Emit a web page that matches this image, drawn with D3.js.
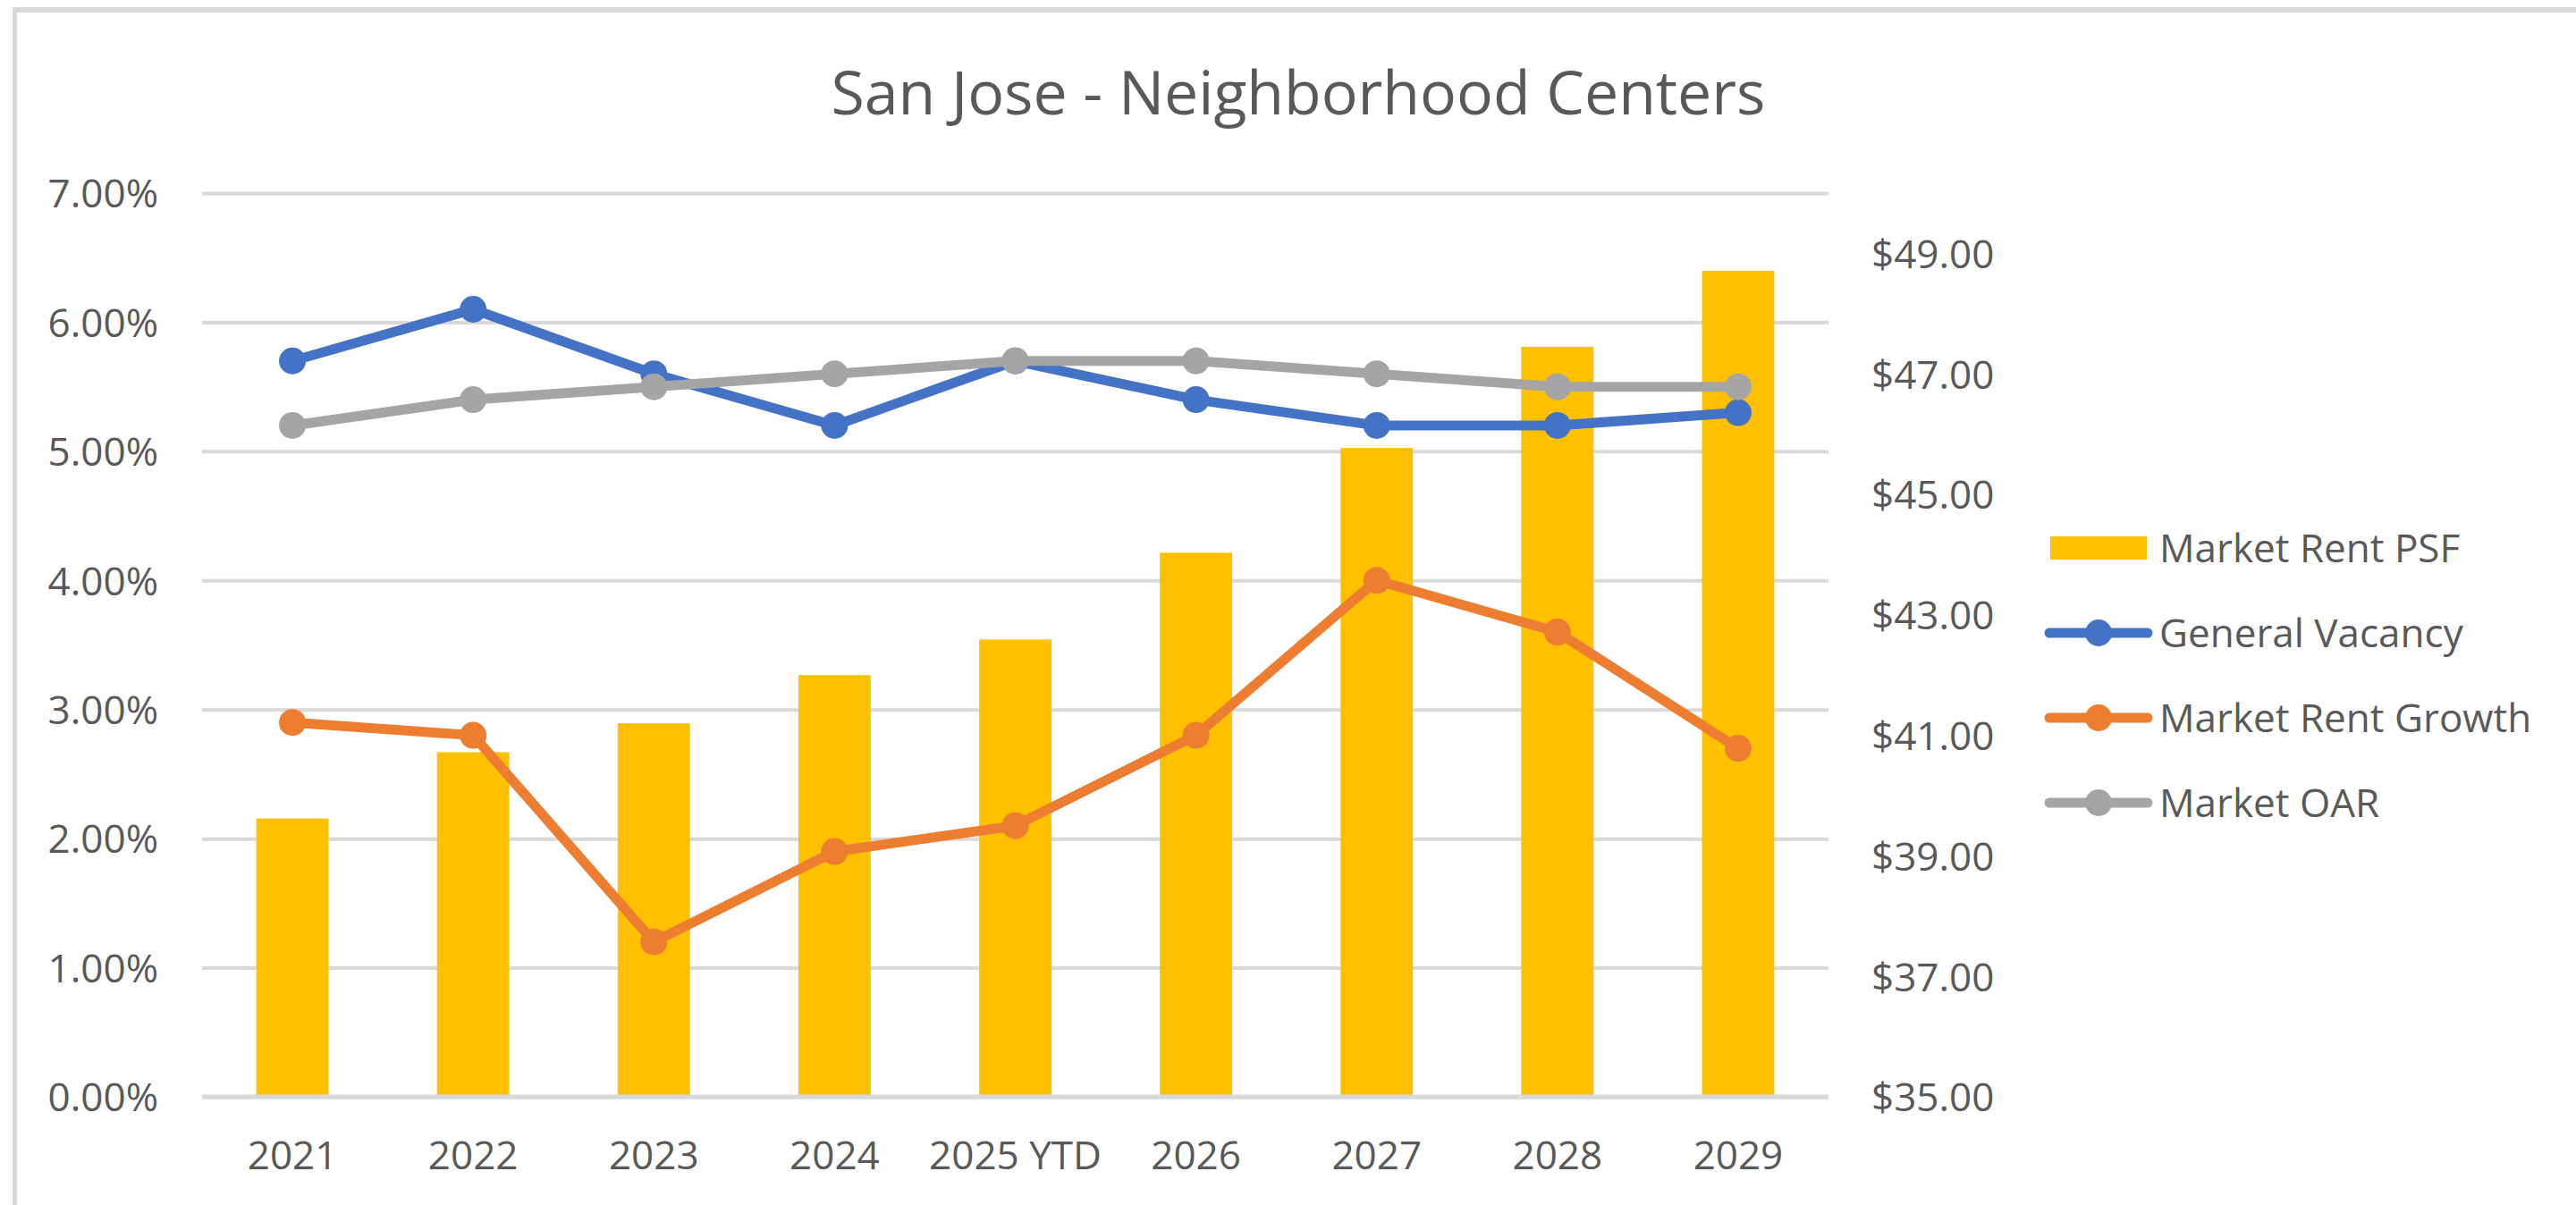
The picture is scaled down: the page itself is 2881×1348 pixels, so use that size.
<!DOCTYPE html>
<html>
<head>
<meta charset="utf-8">
<script src="https://cdn.jsdelivr.net/npm/d3@7"></script>
<style>
  html, body { margin: 0; padding: 0; background: #ffffff; }
  svg { display: block; }
  text { font-family: "Open Sans", "Noto Sans", sans-serif; fill: #595959; }
</style>
</head>
<body>
<script>
// Series data
const categories = ["2021", "2022", "2023", "2024", "2025 YTD", "2026", "2027", "2028", "2029"];
const marketRentPSF = [39.62, 40.72, 41.20, 42.00, 42.59, 44.03, 45.77, 47.45, 48.71];
const generalVacancy = [0.057, 0.061, 0.056, 0.052, 0.057, 0.054, 0.052, 0.052, 0.053];
const marketRentGrowth = [0.029, 0.028, 0.012, 0.019, 0.021, 0.028, 0.040, 0.036, 0.027];
const marketOAR = [0.052, 0.054, 0.055, 0.056, 0.057, 0.057, 0.056, 0.055, 0.055];

// Axis ticks
const pctTicks = [0, 0.01, 0.02, 0.03, 0.04, 0.05, 0.06, 0.07];
const rentTicks = [35, 37, 39, 41, 43, 45, 47, 49];

const titleText = "San Jose - Neighborhood Centers";
const seriesNames = ["Market Rent PSF", "General Vacancy", "Market Rent Growth", "Market OAR"];
const colors = { bar: "#FFC000", vacancy: "#4472C4", growth: "#ED7D31", oar: "#A5A5A5" };

const W = 2881, H = 1348;
const plot = { left: 226, right: 2045, top: 216, bottom: 1227 };
const labelSize = "44px";

const svg = d3.select("body").append("svg")
  .attr("width", W).attr("height", H);

// Chart frame (partially cropped on right/bottom)
svg.append("line").attr("x1", 14).attr("x2", W).attr("y1", 11).attr("y2", 11)
  .attr("stroke", "#d9d9d9").attr("stroke-width", 6);
svg.append("line").attr("x1", 16.5).attr("x2", 16.5).attr("y1", 8).attr("y2", H)
  .attr("stroke", "#d9d9d9").attr("stroke-width", 5);

// Scales
const x = d3.scaleBand().domain(categories)
  .range([plot.left, plot.right]).paddingInner(0.6).paddingOuter(0.3);
const yPct = d3.scaleLinear().domain([0, 0.07]).range([plot.bottom, plot.top]);
const yRent = d3.scaleLinear().domain([35, 50]).range([plot.bottom, plot.top]);

// Title
svg.append("text")
  .attr("x", 1452).attr("y", 128)
  .attr("text-anchor", "middle")
  .style("font-size", "68px")
  .text(titleText);

// Gridlines
const grid = svg.append("g").attr("transform", `translate(${plot.left},0)`)
  .call(d3.axisLeft(yPct).tickValues(pctTicks).tickSize(-(plot.right - plot.left)).tickFormat(""));
grid.select(".domain").remove();
grid.selectAll(".tick line").attr("stroke", "#d9d9d9").attr("stroke-width", 4);

// Left axis labels
const leftAxis = svg.append("g").attr("transform", `translate(177,0)`)
  .call(d3.axisLeft(yPct).tickValues(pctTicks).tickSize(0).tickPadding(0).tickFormat(d3.format(".2%")));
leftAxis.select(".domain").remove();
leftAxis.selectAll("text").attr("dy", "0.36em").style("font-size", labelSize).attr("fill", "#595959");

// Right axis labels
const rightAxis = svg.append("g").attr("transform", `translate(2093,0)`)
  .call(d3.axisRight(yRent).tickValues(rentTicks).tickSize(0).tickPadding(0)
    .tickFormat(d => "$" + d3.format(".2f")(d)));
rightAxis.select(".domain").remove();
rightAxis.selectAll("text").attr("dy", "0.36em").style("font-size", labelSize).attr("fill", "#595959");

// Bars
svg.append("g").selectAll("rect")
  .data(categories.map((c, i) => ({ c, v: marketRentPSF[i] })))
  .join("rect")
  .attr("x", d => x(d.c))
  .attr("width", x.bandwidth())
  .attr("y", d => yRent(d.v))
  .attr("height", d => yRent(35) - yRent(d.v))
  .attr("fill", colors.bar);

// Category axis line and labels
svg.append("line").attr("x1", plot.left).attr("x2", plot.right)
  .attr("y1", plot.bottom).attr("y2", plot.bottom)
  .attr("stroke", "#d9d9d9").attr("stroke-width", 5);
const bottomAxis = svg.append("g").attr("transform", `translate(0,1292)`)
  .call(d3.axisBottom(x).tickSize(0).tickPadding(0));
bottomAxis.select(".domain").remove();
bottomAxis.selectAll("text").attr("dy", "0.36em").style("font-size", labelSize).attr("fill", "#595959");

// Lines with markers
const cx = c => x(c) + x.bandwidth() / 2;
const lineGen = d3.line().x(d => cx(d.c)).y(d => yPct(d.v));
const lineSeries = [
  { values: generalVacancy, color: colors.vacancy },
  { values: marketRentGrowth, color: colors.growth },
  { values: marketOAR, color: colors.oar }
];
lineSeries.forEach(s => {
  const pts = categories.map((c, i) => ({ c, v: s.values[i] }));
  const g = svg.append("g");
  g.append("path").datum(pts)
    .attr("d", lineGen)
    .attr("fill", "none")
    .attr("stroke", s.color)
    .attr("stroke-width", 11)
    .attr("stroke-linejoin", "round")
    .attr("stroke-linecap", "round");
  g.selectAll("circle").data(pts).join("circle")
    .attr("cx", d => cx(d.c)).attr("cy", d => yPct(d.v))
    .attr("r", 15).attr("fill", s.color);
});

// Legend
const legend = svg.append("g");
const legendRows = [
  { name: seriesNames[0], color: colors.bar, type: "bar" },
  { name: seriesNames[1], color: colors.vacancy, type: "line" },
  { name: seriesNames[2], color: colors.growth, type: "line" },
  { name: seriesNames[3], color: colors.oar, type: "line" }
];
legendRows.forEach((r, i) => {
  const cy = 613 + i * 95;
  if (r.type === "bar") {
    legend.append("rect").attr("x", 2293).attr("y", cy - 13).attr("width", 108).attr("height", 26)
      .attr("fill", r.color);
  } else {
    legend.append("line").attr("x1", 2292).attr("x2", 2402).attr("y1", cy).attr("y2", cy)
      .attr("stroke", r.color).attr("stroke-width", 11).attr("stroke-linecap", "round");
    legend.append("circle").attr("cx", 2347).attr("cy", cy).attr("r", 15).attr("fill", r.color);
  }
  legend.append("text").attr("x", 2415).attr("y", cy).attr("dy", "0.36em")
    .style("font-size", labelSize).text(r.name);
});
</script>
</body>
</html>
